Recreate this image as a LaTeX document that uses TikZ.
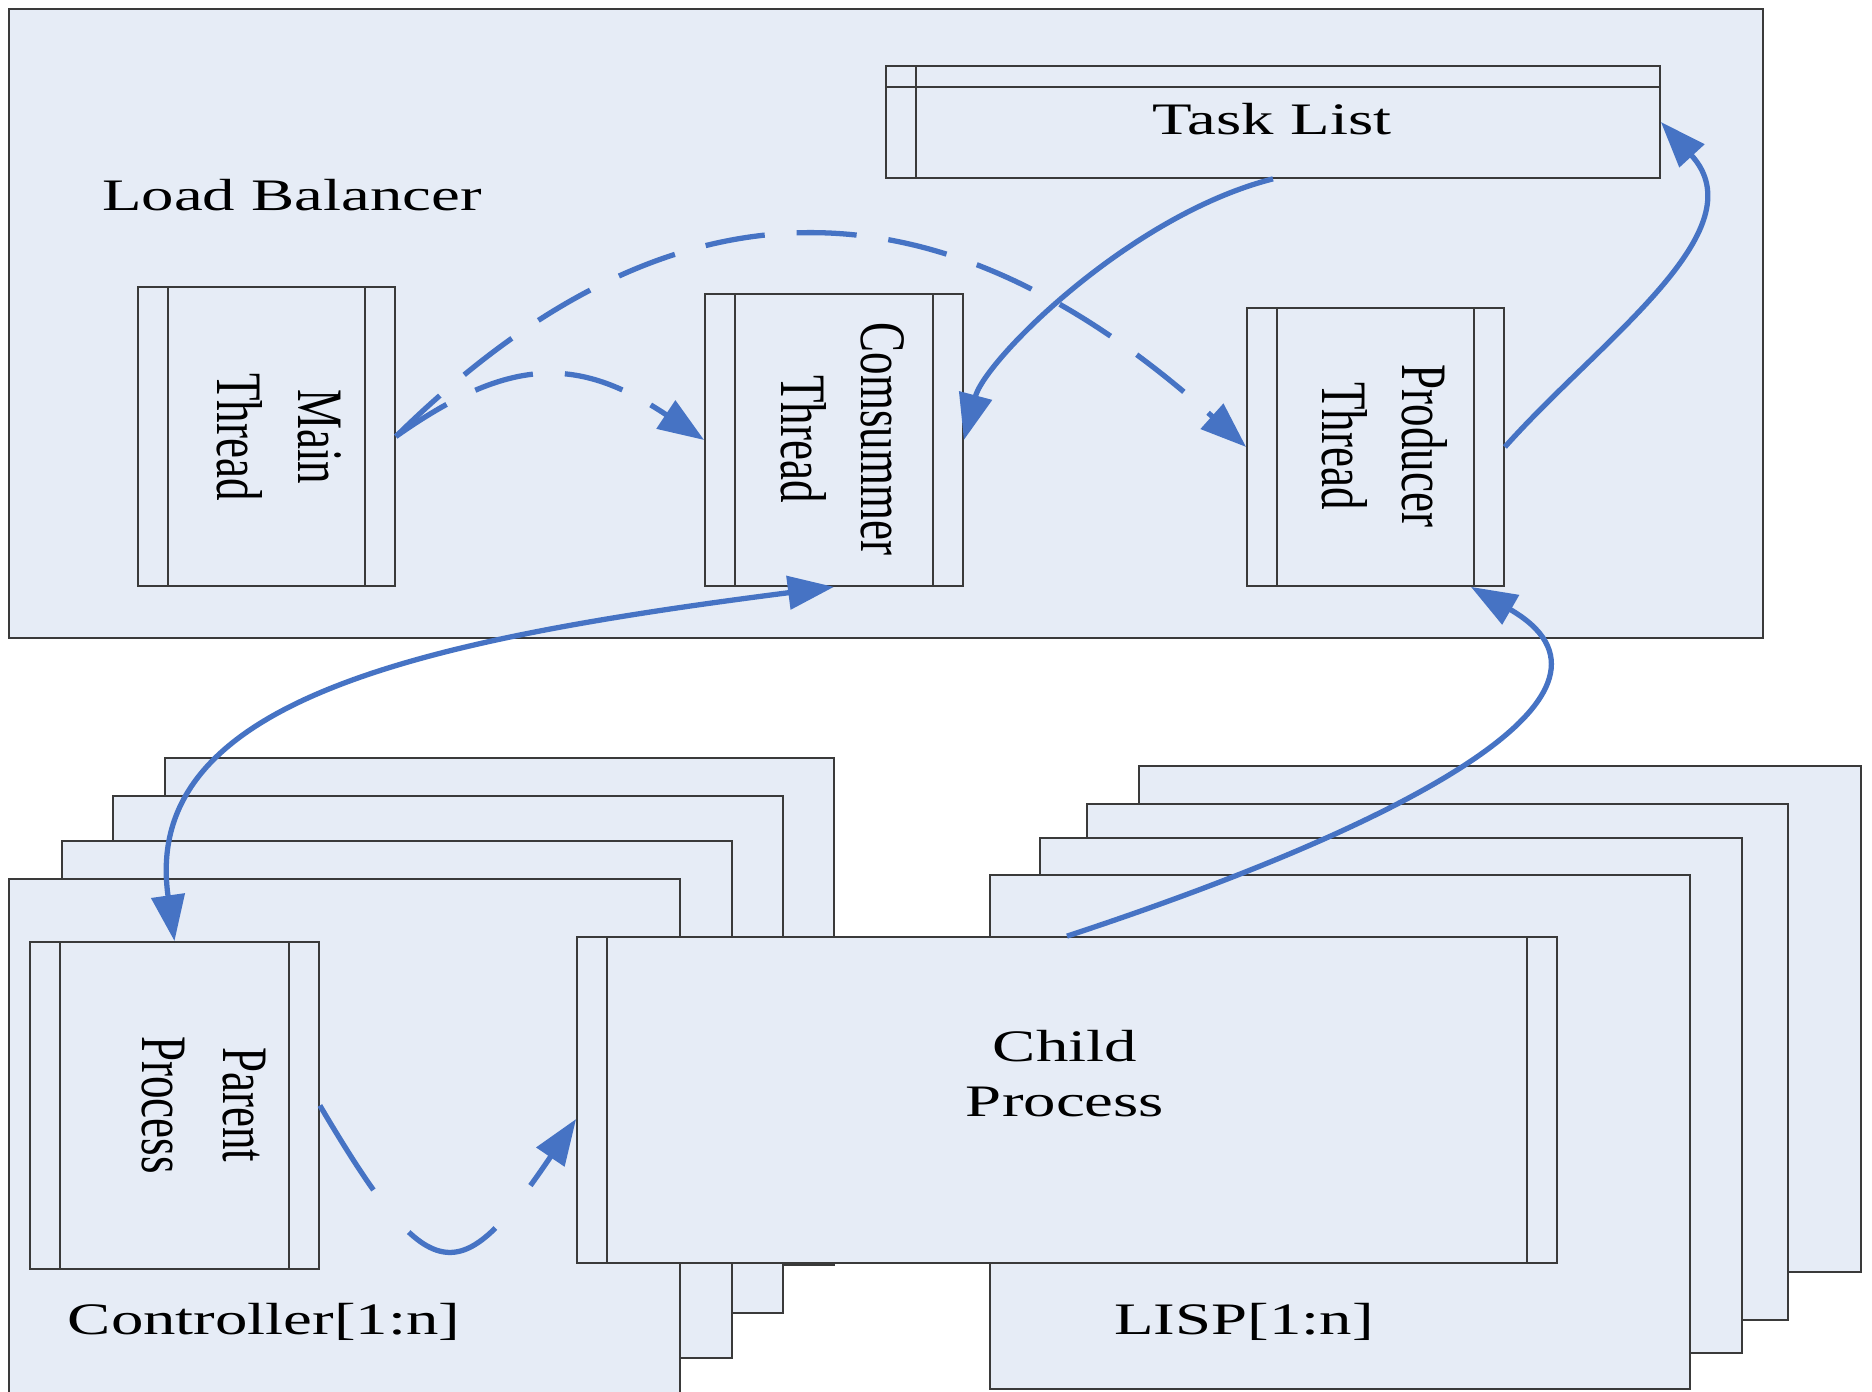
\documentclass[tikz,border=0pt]{standalone}
\usepackage{fontspec}
\setmainfont{Liberation Serif}
\usepackage{graphicx}
\usetikzlibrary{arrows.meta,fit,calc}
\definecolor{boxfill}{HTML}{E6ECF6}
\definecolor{flowblue}{HTML}{4673C4}
\definecolor{edgegray}{HTML}{3A3A3A}
% text is set wide; rotated labels are widened across their lines
\newcommand{\wide}[1]{\scalebox{1.44}[1]{#1}}
\newcommand{\tall}[1]{\scalebox{1}[1.44]{#1}}
\newcommand{\twolines}[2]{\begin{tabular}{@{}c@{}}#1\\#2\end{tabular}}

\begin{document}
\begin{tikzpicture}[x=0.01cm,y=-0.01cm,
  every node/.style={font=\fontsize{12.8pt}{15.8pt}\selectfont, inner sep=0pt},
  outline/.style={draw=edgegray, line width=0.5pt},
  panelbox/.style={outline, fill=boxfill},
  threadbox/.style={panelbox, rectangle, inner sep=0pt},
  flowtip/.style={Triangle[length=4.6mm,width=3.3mm]},
  flow/.style={draw=flowblue, line width=1.5pt, -{Triangle[length=4.6mm,width=3.3mm]}},
  flowboth/.style={draw=flowblue, line width=1.5pt,
    {Triangle[length=4.6mm,width=3.3mm]}-{Triangle[length=4.6mm,width=3.3mm]}},
  dashflow/.style={flow, dash pattern=on 0.6cm off 0.32cm},
  longdashflow/.style={flow, dash pattern=on 1cm off 0.55cm},
]
\fill[white] (0,0) rectangle (1872,1392);
\useasboundingbox (0,0) rectangle (1872,1392);

% ---- load balancer ----
\draw[panelbox, line width=0.7pt] (9,9) rectangle (1763,638);
\node[anchor=base] (lbtitle) at (292,211) {\wide{Load Balancer}};

\node[threadbox, fit={(886,66) (1660,178)}] (tasklist) {};
\draw[outline] ([xshift=3.1mm]tasklist.north west) -- ([xshift=3.1mm]tasklist.south west);
\draw[outline] ([yshift=-2.2mm]tasklist.north west) -- ([yshift=-2.2mm]tasklist.north east);
\node[anchor=base] (tasklbl) at (1272,135) {\wide{Task List}};

\node[threadbox, fit={(138,287) (395,586)}] (mainth) {};
\node[threadbox, fit={(705,294) (963,586)}] (consth) {};
\node[threadbox, fit={(1247,308) (1504,586)}] (prodth) {};

% ---- controller stack ----
\draw[panelbox] (165,758) rectangle (834,1265);
\draw[panelbox] (113,796) rectangle (783,1313);
\draw[panelbox] (62,841) rectangle (732,1358);
\fill[boxfill] (9,879) rectangle (680,1392);
\draw[outline] (9,1392) -- (9,879) -- (680,879) -- (680,1392);
\node[anchor=base] (ctrllbl) at (264,1335) {\wide{Controller[1:n]}};

% ---- LISP stack ----
\draw[panelbox] (1139,766) rectangle (1861,1272);
\draw[panelbox] (1087,804) rectangle (1788,1320);
\draw[panelbox] (1040,838) rectangle (1742,1353);
\draw[panelbox] (990,875) rectangle (1690,1389);
\node[anchor=base] (lisplbl) at (1244,1335) {\wide{LISP[1:n]}};

\node[threadbox, fit={(30,942) (319,1269)}] (parent) {};
\node[threadbox, fit={(577,937) (1557,1263)}] (child) {};

% side strips of the process boxes
\foreach \n in {mainth,consth,prodth,parent,child}{
  \draw[outline] ([xshift=3.1mm]\n.north west) -- ([xshift=3.1mm]\n.south west);
  \draw[outline] ([xshift=-3.1mm]\n.north east) -- ([xshift=-3.1mm]\n.south east);
}

% ---- labels ----
\node[rotate=-90] (mainlbl) at (274,437) {\tall{\twolines{Main}{Thread}}};
\node[rotate=-90] (conslbl) at (837,439) {\tall{\twolines{Comsummer}{Thread}}};
\node[rotate=-90] (prodlbl) at (1378,446) {\tall{\twolines{Producer}{Thread}}};
\node[rotate=-90] (parentlbl) at (199,1105) {\tall{\twolines{Parent}{Process}}};
\node[anchor=base] (childlbl) at (1065,1117)
  {\wide{\begin{tabular}[b]{@{}c@{}}Child\\Process\end{tabular}}};

% ---- connectors ----
\draw[dashflow] (mainth.east) .. controls (669,168) and (936,168) .. (prodth.west);
\draw[dashflow] (mainth.east) .. controls (510,356) and (578,356) .. (consth.west);
\draw[flow] (tasklist.south) .. controls (1130,215) and (985,360) .. (consth.east);
\draw[flow] (prodth.east) .. controls (1600,340) and (1760,230) .. (tasklist.east);
\draw[flowboth] (consth.south) .. controls (420,640) and (140,700) .. (parent.north);
\draw[flow] (child.north) .. controls (1420,820) and (1650,690) .. ($(prodth.south east)+(-34,0)$);
\draw[longdashflow] (parent.east) .. controls (430,1292) and (459,1292) .. ($(child.west)+(0,19)$);
\end{tikzpicture}
\end{document}
